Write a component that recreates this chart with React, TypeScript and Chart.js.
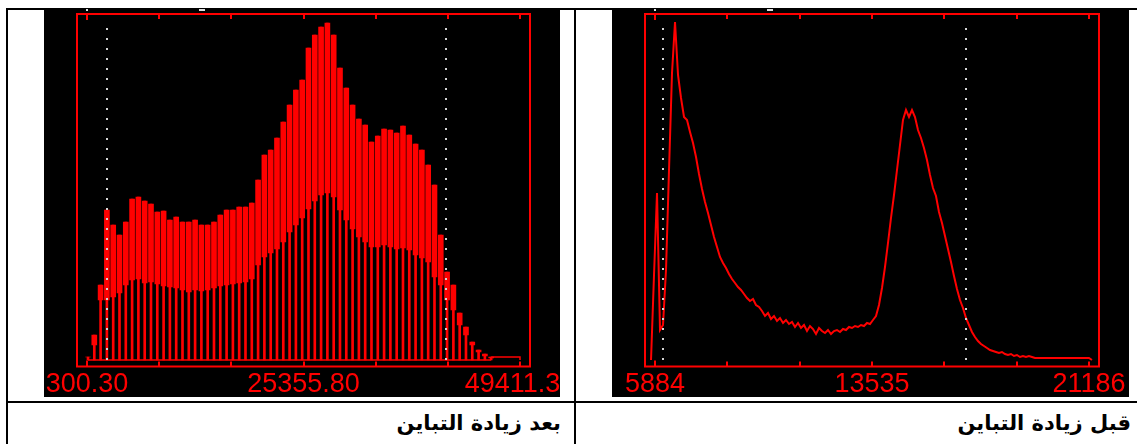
import React, { useEffect, useRef } from "react";
import { Chart, registerables } from "chart.js";

Chart.register(...registerables);

// ---------------- After contrast stretch (left panel) ----------------
const LEFT_BIN_START = 413.7; // DN of first populated bin
const LEFT_BIN_STEP = 714.5; // DN between populated bins (comb spacing)
const LEFT_UPPER = [
  3, 25, 75, 150, 135, 125, 138, 161, 163, 159, 156, 148, 149, 140, 143, 138, 138, 140, 135, 135,
  138, 145, 150, 150, 153, 153, 157, 180, 205, 210, 222, 238, 255, 270, 280, 312, 325, 333, 337, 325,
  292, 272, 255, 241, 235, 218, 224, 231, 230, 227, 234, 225, 216, 210, 195, 175, 125, 88, 75, 47,
  33, 18, 10, 6, 3,
];
const LEFT_LOWER = [
  3, 15, 60, 60, 63, 67, 75, 80, 81, 77, 78, 76, 74, 73, 72, 70, 68, 70, 69, 70,
  72, 74, 75, 76, 77, 78, 81, 95, 103, 107, 111, 118, 128, 135, 142, 151, 159, 165, 167, 163,
  150, 140, 131, 123, 118, 113, 113, 115, 113, 111, 112, 110, 105, 102, 98, 83, 75, 60, 50, 35,
  25, 15, 8, 4, 2,
];
const LEFT_TAIL_X = [46144.7, 49411.3, 49411.3];
const LEFT_TAIL_Y = [3, 3, 0];
const LEFT_MARKERS = [2569, 41018];
const LEFT_TICKS = [300.3, 8485.47, 16670.63, 24855.8, 33040.97, 41226.13, 49411.3];
const LEFT_TICK_LABELS = ["300.30", "", "", "25355.80", "", "", "49411.30"];
const LEFT_X_RANGE = [-834, 50545];

// ---------------- Before contrast stretch (right panel) ----------------
const RIGHT_BIN_START = 5743;
const RIGHT_BIN_STEP = 105.77;
const RIGHT_COUNTS = [
  0, 85, 167, 30, 35, 90, 190, 287, 338, 285, 262, 243, 240, 228, 217, 203, 186, 171, 158, 147,
  135, 123, 113, 103, 97, 92, 86, 81, 77, 73, 70, 66, 62, 59, 61, 55, 53, 49, 44, 47,
  41, 44, 39, 42, 37, 40, 36, 38, 33, 37, 32, 35, 29, 34, 31, 26, 32, 29, 27, 30,
  26, 29, 30, 28, 31, 30, 33, 32, 34, 33, 35, 34, 37, 36, 40, 44, 55, 72, 93, 117,
  142, 165, 190, 215, 240, 250, 243, 250, 243, 230, 222, 212, 200, 185, 172, 164, 148, 137, 124, 111,
  98, 84, 71, 60, 52, 42, 35, 28, 23, 19, 16, 14, 12, 10, 9, 8, 7, 8, 6, 5,
  6, 4, 5, 3, 4, 3, 4, 3, 2, 2, 2, 2, 2, 2, 2, 2, 2, 2, 2, 2,
  2, 2, 2, 2, 2, 2, 2, 0,
];
const RIGHT_MARKERS = [6166, 16850];
const RIGHT_TICKS = [5884, 8434.33, 10984.67, 13535, 16085.33, 18635.67, 21186];
const RIGHT_TICK_LABELS = ["5884", "", "", "13535", "", "", "21186"];
const RIGHT_X_RANGE = [5531, 21539];

const Y_RANGE = [-6.5, 346];
const MARKER_TOP = 332;

const CAPTION_LEFT = "بعد زيادة التباين";
const CAPTION_RIGHT = "قبل زيادة التباين";

const RED = "#ff0000";
const DOT = "#d4d4d4";

function framePlugin(ticks: number[], labels: string[]) {
  return {
    id: "envFrame",
    beforeDraw(chart: any) {
      const ctx = chart.ctx;
      ctx.save();
      ctx.fillStyle = "#000";
      ctx.fillRect(0, 0, chart.width, chart.height);
      ctx.restore();
    },
    afterDatasetsDraw(chart: any) {
      const ctx = chart.ctx;
      const a = chart.chartArea;
      const x = chart.scales.x;
      ctx.save();
      ctx.strokeStyle = RED;
      ctx.lineWidth = 2;
      ctx.strokeRect(a.left, a.top, a.right - a.left, a.bottom - a.top);
      ticks.forEach((v, k) => {
        const px = Math.round(x.getPixelForValue(v));
        const len = k === 0 ? 6 : 5;
        ctx.beginPath();
        ctx.moveTo(px, a.top);
        ctx.lineTo(px, a.top + len);
        ctx.moveTo(px, a.bottom);
        ctx.lineTo(px, a.bottom - len);
        ctx.stroke();
      });
      // remnants of clipped header text at the very top
      const p0 = Math.round(x.getPixelForValue(ticks[0]));
      ctx.fillStyle = "#e0e0e0";
      ctx.fillRect(p0 - 1, 0, 2, 2);
      ctx.fillRect(p0 + 112, 0, 6, 2);
      ctx.fillStyle = RED;
      ctx.font = '27px "Liberation Sans", Arial, sans-serif';
      ctx.textAlign = "center";
      ctx.textBaseline = "middle";
      ticks.forEach((v, k) => {
        const t = labels[k];
        if (!t) return;
        ctx.fillText(t, x.getPixelForValue(v), a.bottom + 18);
      });
      ctx.restore();
    },
  };
}

function markerSets(markers: number[]) {
  return markers.map((m) => ({
    type: "line" as const,
    data: [
      { x: m, y: MARKER_TOP },
      { x: m, y: 0 },
    ],
    borderColor: DOT,
    borderWidth: 2,
    borderDash: [2, 8],
    pointRadius: 0,
    fill: false,
  }));
}

function baseOptions(xr: number[]) {
  return {
    animation: false as const,
    responsive: false,
    maintainAspectRatio: false,
    events: [],
    layout: { padding: { left: 33, right: 30, top: 5, bottom: 30.5 } },
    plugins: { legend: { display: false }, tooltip: { enabled: false } },
    scales: {
      x: { type: "linear" as const, min: xr[0], max: xr[1], display: false, offset: false },
      y: { type: "linear" as const, min: Y_RANGE[0], max: Y_RANGE[1], display: false },
    },
  };
}

function LeftChart() {
  const ref = useRef<HTMLCanvasElement>(null);
  useEffect(() => {
    const xs = LEFT_UPPER.map((_, i) => LEFT_BIN_START + i * LEFT_BIN_STEP);
    const chart = new Chart(ref.current as HTMLCanvasElement, {
      type: "bar",
      data: {
        datasets: [
          ...markerSets(LEFT_MARKERS),
          {
            type: "bar",
            data: xs.map((x, i) => ({ x, y: [0, LEFT_UPPER[i]] })),
            backgroundColor: RED,
            borderWidth: 0,
            barThickness: 2,
            grouped: false,
          },
          {
            type: "bar",
            data: xs.map((x, i) => ({ x, y: [LEFT_LOWER[i], LEFT_UPPER[i]] })),
            backgroundColor: RED,
            borderWidth: 0,
            barThickness: 5,
            grouped: false,
          },
          {
            type: "line",
            data: [
              { x: xs[0], y: 0 },
              { x: xs[xs.length - 1], y: 0 },
            ],
            borderColor: RED,
            borderWidth: 1.5,
            pointRadius: 0,
          },
          {
            type: "line",
            data: LEFT_TAIL_X.map((x, i) => ({ x, y: LEFT_TAIL_Y[i] })),
            borderColor: RED,
            borderWidth: 1.5,
            pointRadius: 0,
          },
        ] as any,
      },
      options: baseOptions(LEFT_X_RANGE) as any,
      plugins: [framePlugin(LEFT_TICKS, LEFT_TICK_LABELS)],
    });
    return () => chart.destroy();
  }, []);
  return (
    <canvas
      ref={ref}
      width={516}
      height={388}
      style={{ position: "absolute", left: 44, top: 9, width: 516, height: 388, display: "block" }}
    />
  );
}

function RightChart() {
  const ref = useRef<HTMLCanvasElement>(null);
  useEffect(() => {
    const chart = new Chart(ref.current as HTMLCanvasElement, {
      type: "line",
      data: {
        datasets: [
          ...markerSets(RIGHT_MARKERS),
          {
            type: "line",
            data: RIGHT_COUNTS.map((c, i) => ({ x: RIGHT_BIN_START + i * RIGHT_BIN_STEP, y: c })),
            borderColor: RED,
            borderWidth: 2,
            pointRadius: 0,
            tension: 0,
          },
        ] as any,
      },
      options: baseOptions(RIGHT_X_RANGE) as any,
      plugins: [framePlugin(RIGHT_TICKS, RIGHT_TICK_LABELS)],
    });
    return () => chart.destroy();
  }, []);
  return (
    <canvas
      ref={ref}
      width={517}
      height={388}
      style={{ position: "absolute", left: 612, top: 9, width: 517, height: 388, display: "block" }}
    />
  );
}

const line = (l: number, t: number, w: number, h: number): React.CSSProperties => ({
  position: "absolute",
  left: l,
  top: t,
  width: w,
  height: h,
  background: "#000",
});

const captionStyle = (right: number): React.CSSProperties => ({
  position: "absolute",
  left: 0,
  width: right,
  top: 410,
  textAlign: "right",
  direction: "rtl",
  font: 'bold 21px "DejaVu Sans", Arial, sans-serif',
  lineHeight: "26px",
  color: "#000",
  whiteSpace: "nowrap",
});

export default function App() {
  return (
    <div style={{ position: "absolute", left: 0, top: 0, width: 1137, height: 444, background: "#fff", overflow: "hidden" }}>
      <div style={line(6, 8, 1131, 2)} />
      <div style={line(6, 8, 2, 436)} />
      <div style={line(574, 8, 2, 436)} />
      <div style={line(6, 401, 1131, 2)} />
      <LeftChart />
      <RightChart />
      <div style={captionStyle(561)}>{CAPTION_LEFT}</div>
      <div style={captionStyle(1131)}>{CAPTION_RIGHT}</div>
    </div>
  );
}
